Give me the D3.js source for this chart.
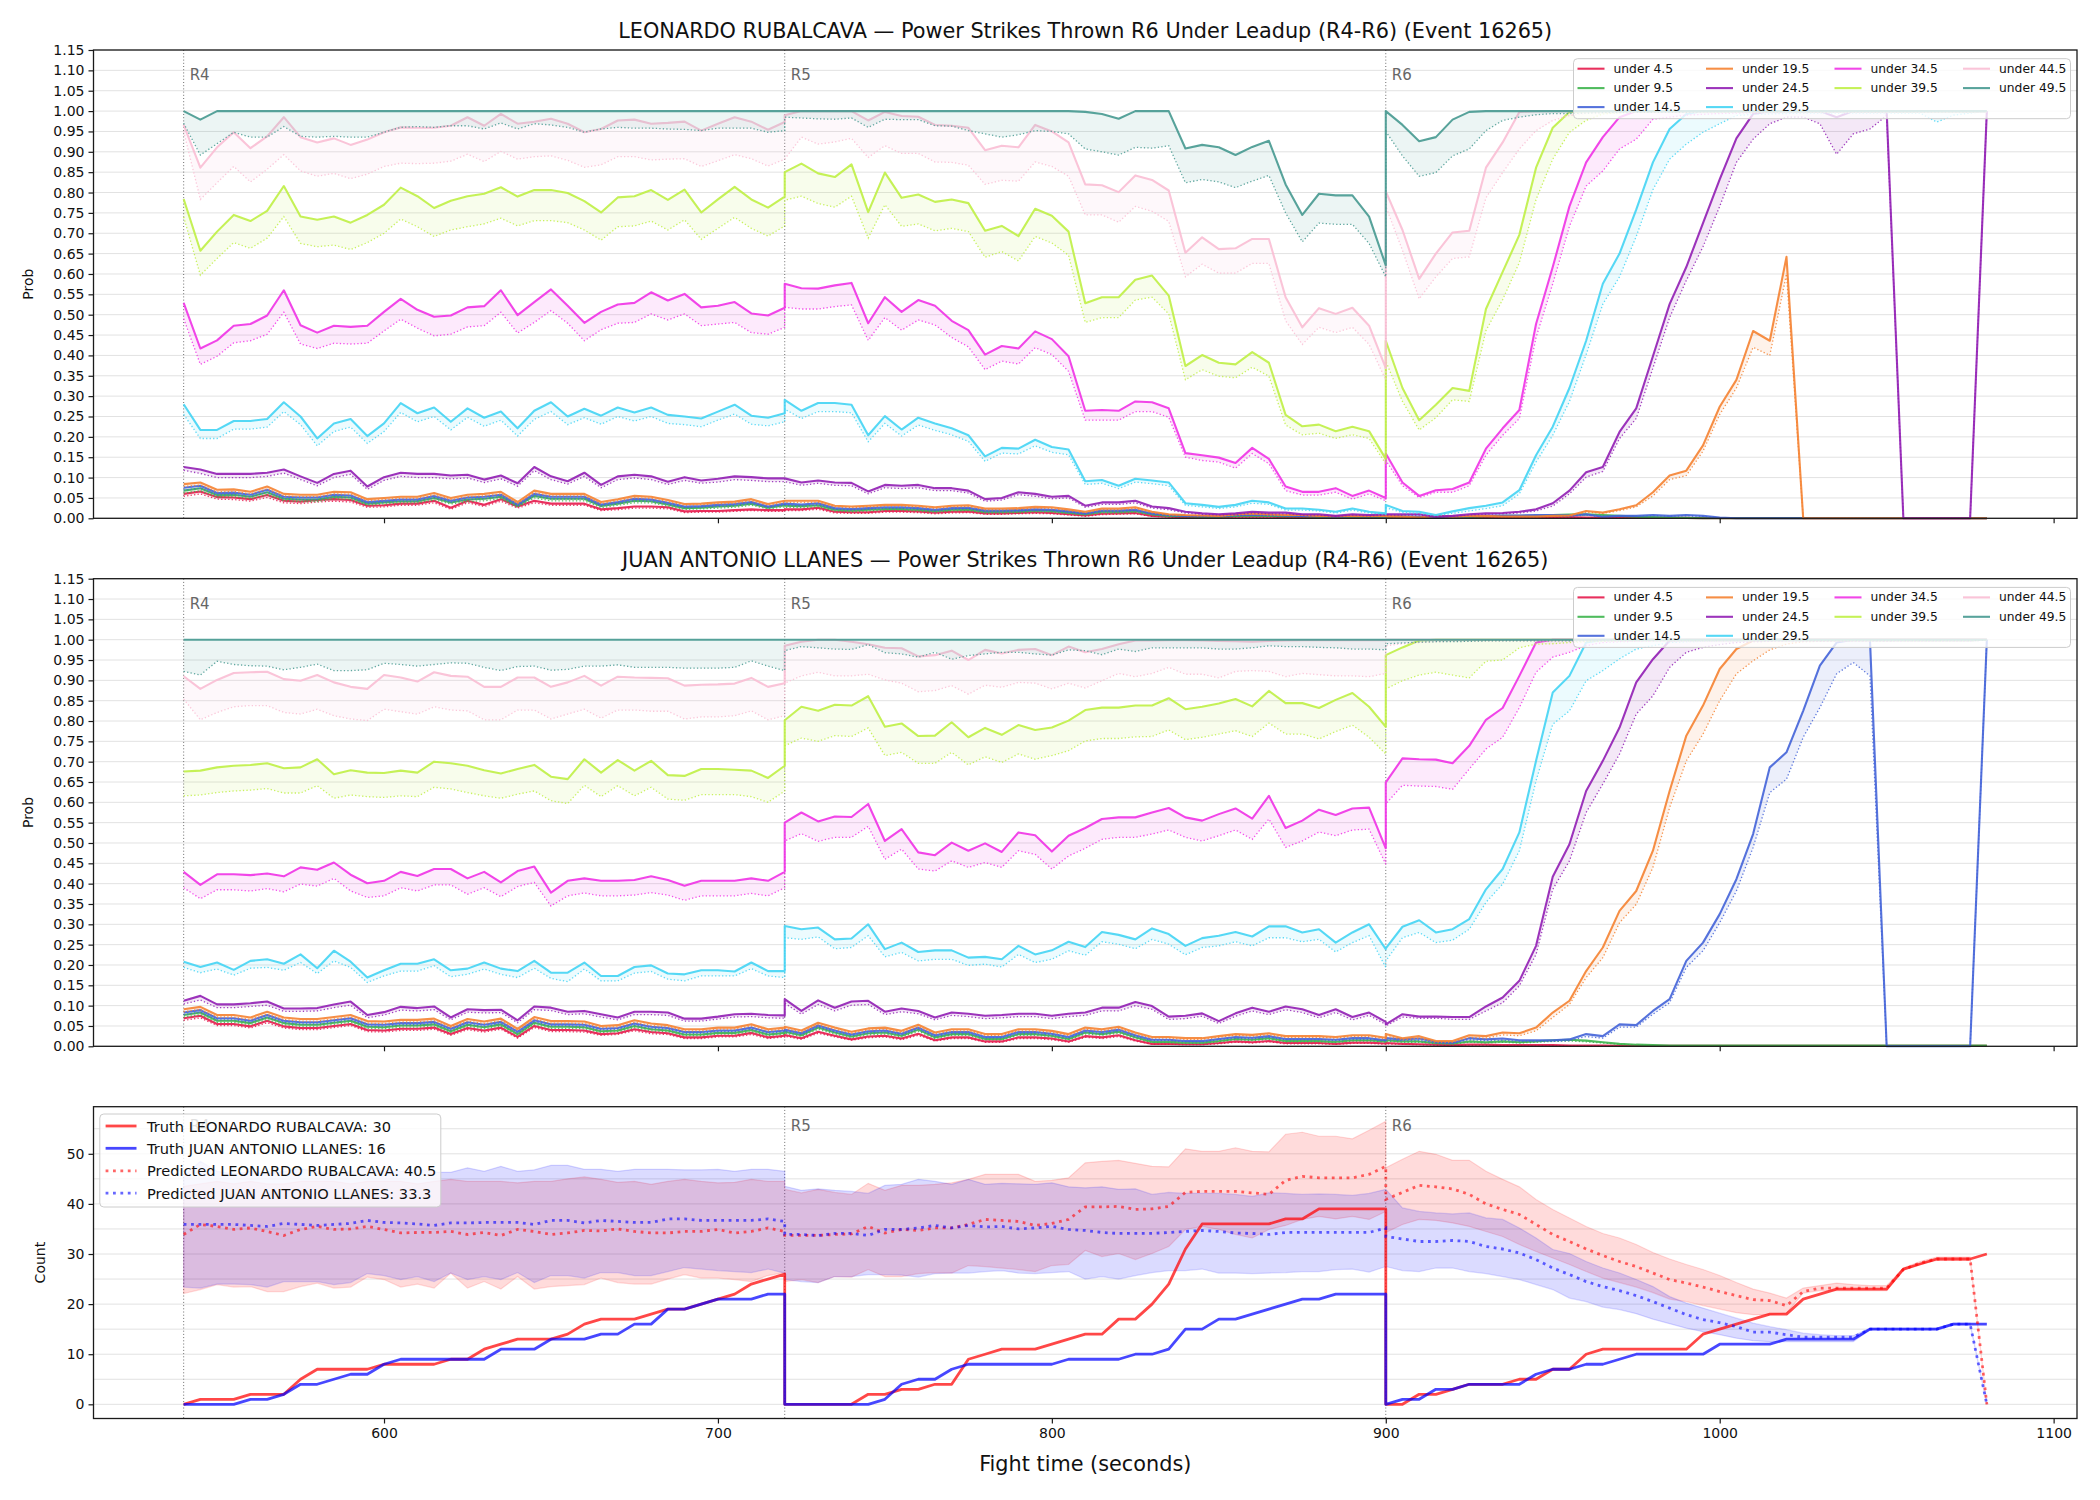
<!DOCTYPE html>
<html>
<head>
<meta charset="utf-8">
<script src="https://d3js.org/d3.v7.min.js"></script>
<style>
  html, body { margin: 0; background: white; }
  svg text { font-family: "DejaVu Sans", sans-serif; }
</style>
</head>
<body>
<script>
// ---- chart constants ----
const width = 2100, height = 1500;
const ROUND_STARTS = [540, 720, 900];
const ROUND_NAMES = ["R4", "R5", "R6"];
const STEP_SEC = 5, STEPS_PER_ROUND = 37;

const fighterA = "LEONARDO RUBALCAVA";
const fighterB = "JUAN ANTONIO LLANES";
const titleSuffix = "Power Strikes Thrown R6 Under Leadup (R4-R6) (Event 16265)";
const predictedTotals = [40.5, 33.3];

const thresholds = ["4.5", "9.5", "14.5", "19.5", "24.5", "29.5", "34.5", "39.5", "44.5", "49.5"];
const thresholdColors = ["#e6194B", "#3cb44b", "#4363d8", "#f58231", "#911eb4",
                         "#42d4f4", "#f032e6", "#bfef45", "#fabed4", "#469990"];

const xTicks = [600, 700, 800, 900, 1000, 1100];
const probTicks = [0, 0.05, 0.1, 0.15, 0.2, 0.25, 0.3, 0.35, 0.4, 0.45, 0.5, 0.55,
                   0.6, 0.65, 0.7, 0.75, 0.8, 0.85, 0.9, 0.95, 1, 1.05, 1.1, 1.15];
const countTicks = [0, 10, 20, 30, 40, 50];
const countGrid = [0, 5, 10, 15, 20, 25, 30, 35, 40, 45, 50, 55];

// sample times: every 5 s through each round (round end repeated as next start)
const times = ROUND_STARTS.flatMap(s => d3.range(STEPS_PER_ROUND).map(i => s + i * STEP_SEC));

// ---- LEONARDO: P(strikes under N) — solid = estimate, Lo = dotted lower line ----
const leo4_5 = [
  0.060,0.066,0.052,0.051,0.047,0.057,0.043,0.041,0.045,0.047,0.045,0.031,0.032,0.036,0.036,0.043,0.026,0.043,0.033,0.047,0.029,0.043,0.036,0.036,0.036,0.022,0.025,0.029,0.029,0.027,0.017,0.018,0.018,0.020,0.022,0.020,0.020,
  0.022,0.022,0.026,0.016,0.015,0.015,0.018,0.018,0.017,0.014,0.016,0.017,0.012,0.012,0.013,0.015,0.013,0.010,0.007,0.011,0.012,0.013,0.006,0.004,0.003,0.003,0.003,0.004,0.004,0.004,0.003,0.003,0.003,0.002,0.003,0.002,0.003,
  0.004,0.003,0.003,0.002,0.003,0.003,0.003,0.003,0.003,0.003,0.003,0.003,0.002,0.002,0.002,0.001,0.001,0.001,0.001,0,0,0,0,0,0,0,0,0,0,0,0,0,0,0,0,0,0];
const leo4_5Lo = [
  0.054,0.060,0.047,0.046,0.042,0.051,0.038,0.036,0.040,0.042,0.040,0.027,0.028,0.032,0.032,0.038,0.022,0.038,0.029,0.042,0.025,0.038,0.032,0.032,0.032,0.019,0.021,0.025,0.025,0.023,0.014,0.015,0.015,0.017,0.019,0.017,0.017,
  0.019,0.019,0.022,0.013,0.012,0.012,0.015,0.015,0.014,0.011,0.013,0.014,0.010,0.010,0.011,0.012,0.011,0.008,0.005,0.009,0.010,0.011,0.005,0.003,0.002,0.002,0.002,0.003,0.003,0.003,0.002,0.002,0.002,0.001,0.002,0.001,0.002,
  0.003,0.002,0.002,0.001,0.002,0.002,0.002,0.002,0.002,0.002,0.002,0.002,0.001,0.001,0.001,0.001,0.001,0.001,0.001,0,0,0,0,0,0,0,0,0,0,0,0,0,0,0,0,0,0];
const leo9_5 = [
  0.068,0.074,0.057,0.058,0.053,0.064,0.048,0.046,0.046,0.053,0.051,0.036,0.039,0.042,0.042,0.050,0.039,0.046,0.048,0.053,0.031,0.055,0.048,0.048,0.048,0.030,0.036,0.043,0.042,0.034,0.025,0.026,0.029,0.031,0.036,0.026,0.032,
  0.031,0.030,0.032,0.021,0.019,0.021,0.023,0.023,0.021,0.018,0.021,0.022,0.016,0.016,0.017,0.019,0.018,0.014,0.010,0.016,0.016,0.018,0.010,0.006,0.005,0.004,0.004,0.006,0.007,0.006,0.005,0.005,0.004,0.003,0.004,0.004,0.004,
  0.005,0.004,0.003,0.002,0.003,0.004,0.005,0.006,0.006,0.006,0.008,0.009,0.010,0.008,0.006,0.004,0.003,0.002,0.001,0,0,0,0,0,0,0,0,0,0,0,0,0,0,0,0,0,0];
const leo9_5Lo = [
  0.062,0.068,0.052,0.053,0.048,0.058,0.043,0.041,0.041,0.048,0.046,0.032,0.035,0.038,0.038,0.045,0.035,0.041,0.043,0.048,0.027,0.050,0.043,0.043,0.043,0.026,0.032,0.038,0.038,0.030,0.022,0.023,0.025,0.027,0.032,0.023,0.028,
  0.027,0.026,0.028,0.018,0.016,0.018,0.020,0.020,0.018,0.015,0.018,0.019,0.013,0.013,0.014,0.016,0.015,0.012,0.008,0.013,0.013,0.015,0.008,0.005,0.004,0.003,0.003,0.005,0.005,0.005,0.004,0.004,0.003,0.002,0.003,0.003,0.003,
  0.004,0.003,0.002,0.001,0.002,0.003,0.004,0.005,0.005,0.005,0.006,0.007,0.008,0.006,0.005,0.003,0.002,0.001,0.001,0,0,0,0,0,0,0,0,0,0,0,0,0,0,0,0,0,0];
const leo14_5 = [
  0.075,0.080,0.062,0.063,0.058,0.070,0.053,0.051,0.051,0.058,0.056,0.040,0.043,0.046,0.046,0.055,0.043,0.051,0.053,0.058,0.034,0.060,0.053,0.053,0.053,0.034,0.040,0.048,0.046,0.038,0.029,0.030,0.033,0.035,0.040,0.029,0.036,
  0.036,0.034,0.037,0.025,0.023,0.025,0.027,0.027,0.025,0.021,0.025,0.026,0.019,0.019,0.020,0.022,0.021,0.017,0.012,0.019,0.019,0.021,0.012,0.008,0.006,0.005,0.005,0.008,0.009,0.008,0.007,0.006,0.005,0.004,0.005,0.005,0.005,
  0.007,0.005,0.004,0.002,0.004,0.005,0.007,0.007,0.007,0.008,0.008,0.007,0.010,0.004,0.006,0.006,0.008,0.006,0.008,0.006,0.002,0,0,0,0,0,0,0,0,0,0,0,0,0,0,0,0];
const leo14_5Lo = [
  0.069,0.074,0.057,0.058,0.053,0.064,0.048,0.046,0.046,0.053,0.051,0.036,0.039,0.042,0.042,0.050,0.039,0.046,0.048,0.053,0.030,0.055,0.048,0.048,0.048,0.030,0.036,0.043,0.042,0.034,0.026,0.027,0.029,0.031,0.036,0.026,0.032,
  0.032,0.030,0.033,0.022,0.020,0.022,0.024,0.024,0.022,0.018,0.022,0.023,0.016,0.016,0.017,0.019,0.018,0.014,0.010,0.016,0.016,0.018,0.010,0.006,0.005,0.004,0.004,0.006,0.007,0.006,0.005,0.005,0.004,0.003,0.004,0.004,0.004,
  0.005,0.004,0.003,0.001,0.003,0.004,0.005,0.005,0.005,0.006,0.006,0.005,0.008,0.003,0.005,0.005,0.006,0.005,0.006,0.005,0.001,0,0,0,0,0,0,0,0,0,0,0,0,0,0,0,0];
const leo19_5 = [
  0.084,0.088,0.070,0.071,0.065,0.078,0.060,0.058,0.058,0.065,0.064,0.047,0.050,0.053,0.053,0.062,0.050,0.058,0.060,0.065,0.040,0.068,0.060,0.060,0.060,0.040,0.047,0.055,0.053,0.045,0.035,0.036,0.039,0.041,0.047,0.035,0.043,
  0.043,0.043,0.043,0.031,0.029,0.031,0.033,0.033,0.031,0.027,0.031,0.032,0.024,0.024,0.025,0.028,0.027,0.022,0.016,0.024,0.024,0.027,0.016,0.010,0.008,0.007,0.006,0.010,0.012,0.010,0.008,0.008,0.006,0.005,0.006,0.006,0.006,
  0.006,0.004,0.002,0.006,0.004,0.006,0.006,0.004,0.004,0.004,0.006,0.007,0.018,0.014,0.022,0.032,0.064,0.105,0.117,0.179,0.274,0.340,0.460,0.436,0.642,0,0,0,0,0,0,0,0,0,0,0,0];
const leo19_5Lo = [
  0.078,0.082,0.065,0.066,0.060,0.072,0.055,0.053,0.053,0.060,0.059,0.043,0.046,0.049,0.049,0.057,0.046,0.053,0.055,0.060,0.036,0.063,0.055,0.055,0.055,0.036,0.043,0.050,0.049,0.041,0.032,0.033,0.036,0.037,0.043,0.032,0.039,
  0.039,0.039,0.039,0.028,0.026,0.028,0.030,0.030,0.028,0.024,0.028,0.029,0.021,0.021,0.022,0.025,0.024,0.019,0.014,0.021,0.021,0.024,0.014,0.008,0.007,0.006,0.005,0.008,0.010,0.008,0.007,0.007,0.005,0.004,0.005,0.005,0.005,
  0.005,0.003,0.002,0.005,0.003,0.005,0.005,0.003,0.003,0.003,0.005,0.006,0.015,0.012,0.019,0.028,0.055,0.095,0.105,0.165,0.255,0.320,0.420,0.400,0.600,0,0,0,0,0,0,0,0,0,0,0,0];
const leo24_5 = [
  0.126,0.120,0.109,0.109,0.109,0.112,0.120,0.103,0.087,0.109,0.117,0.078,0.101,0.112,0.109,0.109,0.105,0.107,0.095,0.105,0.086,0.126,0.103,0.091,0.112,0.082,0.103,0.107,0.103,0.090,0.101,0.093,0.097,0.103,0.101,0.098,0.098,
  0.098,0.088,0.093,0.088,0.087,0.066,0.082,0.080,0.082,0.074,0.074,0.068,0.047,0.050,0.064,0.060,0.053,0.055,0.031,0.039,0.039,0.043,0.029,0.025,0.016,0.012,0.010,0.012,0.016,0.014,0.014,0.010,0.010,0.006,0.010,0.008,0.010,
  0.010,0.010,0.010,0.004,0.006,0.010,0.012,0.013,0.016,0.022,0.037,0.068,0.113,0.126,0.212,0.270,0.398,0.526,0.617,0.725,0.832,0.933,0.993,1,1,1,1,0.985,1,1,1,0,0,0,0,0,1];
const leo24_5Lo = [
  0.118,0.110,0.100,0.100,0.100,0.103,0.111,0.095,0.080,0.100,0.108,0.071,0.093,0.103,0.100,0.100,0.097,0.099,0.088,0.097,0.079,0.117,0.095,0.084,0.103,0.075,0.095,0.099,0.095,0.083,0.093,0.086,0.089,0.095,0.093,0.090,0.090,
  0.090,0.081,0.086,0.081,0.080,0.060,0.075,0.073,0.075,0.068,0.068,0.062,0.042,0.045,0.058,0.054,0.048,0.050,0.027,0.034,0.034,0.038,0.025,0.021,0.013,0.010,0.008,0.010,0.013,0.011,0.011,0.008,0.008,0.005,0.008,0.006,0.008,
  0.008,0.008,0.008,0.003,0.005,0.008,0.010,0.011,0.013,0.018,0.030,0.060,0.101,0.115,0.196,0.245,0.369,0.493,0.584,0.667,0.766,0.874,0.931,0.969,0.985,0.985,0.969,0.894,0.944,0.956,0.989,0,0,0,0,0,1];
const leo29_5 = [
  0.280,0.217,0.217,0.239,0.239,0.244,0.285,0.250,0.196,0.233,0.244,0.202,0.233,0.283,0.258,0.272,0.237,0.270,0.247,0.262,0.221,0.264,0.285,0.250,0.269,0.252,0.272,0.260,0.272,0.254,0.250,0.245,0.262,0.279,0.252,0.247,0.258,
  0.291,0.264,0.283,0.283,0.279,0.204,0.251,0.218,0.247,0.233,0.221,0.204,0.152,0.173,0.171,0.193,0.175,0.169,0.091,0.094,0.080,0.097,0.093,0.088,0.037,0.033,0.028,0.033,0.043,0.039,0.024,0.024,0.021,0.016,0.024,0.016,0.012,
  0.033,0.018,0.016,0.008,0.017,0.025,0.031,0.039,0.069,0.155,0.225,0.320,0.436,0.576,0.650,0.758,0.874,0.956,0.993,1,1,1,1,1,1,1,1,1,1,1,1,1,1,1,1,1,1];
const leo29_5Lo = [
  0.255,0.196,0.196,0.219,0.219,0.224,0.262,0.230,0.178,0.213,0.224,0.184,0.213,0.260,0.237,0.250,0.217,0.248,0.226,0.241,0.202,0.243,0.262,0.230,0.247,0.231,0.250,0.239,0.250,0.233,0.230,0.225,0.241,0.256,0.231,0.227,0.237,
  0.268,0.245,0.262,0.262,0.259,0.188,0.233,0.202,0.229,0.216,0.205,0.189,0.140,0.160,0.158,0.178,0.162,0.156,0.083,0.086,0.073,0.089,0.085,0.080,0.032,0.028,0.024,0.028,0.037,0.034,0.020,0.020,0.018,0.013,0.020,0.013,0.010,
  0.026,0.014,0.012,0.006,0.012,0.018,0.024,0.031,0.060,0.138,0.204,0.287,0.402,0.526,0.593,0.692,0.807,0.882,0.919,0.948,0.969,0.989,0.992,0.993,0.994,0.995,0.995,0.995,0.995,0.995,0.995,0.995,0.995,0.973,0.990,0.995,0.999];
const leo34_5 = [
  0.529,0.417,0.437,0.473,0.477,0.498,0.560,0.474,0.456,0.473,0.470,0.473,0.507,0.539,0.512,0.495,0.498,0.518,0.521,0.560,0.499,0.531,0.562,0.522,0.480,0.507,0.525,0.529,0.555,0.535,0.551,0.518,0.522,0.531,0.503,0.498,0.517,
  0.576,0.565,0.564,0.572,0.578,0.479,0.543,0.507,0.536,0.522,0.485,0.462,0.402,0.423,0.417,0.459,0.440,0.398,0.264,0.266,0.264,0.287,0.285,0.270,0.160,0.155,0.149,0.136,0.173,0.146,0.078,0.065,0.065,0.074,0.055,0.068,0.050,
  0.159,0.088,0.055,0.069,0.072,0.088,0.171,0.221,0.266,0.477,0.617,0.766,0.874,0.936,0.985,1,1,1,1,1,1,1,1,1,1,1,1,1,1,1,1,1,1,1,1,1,1];
const leo34_5Lo = [
  0.490,0.378,0.398,0.431,0.436,0.452,0.506,0.428,0.417,0.430,0.428,0.430,0.460,0.489,0.467,0.448,0.452,0.470,0.473,0.506,0.455,0.481,0.510,0.479,0.436,0.463,0.479,0.481,0.502,0.487,0.502,0.473,0.477,0.481,0.456,0.452,0.469,
  0.518,0.514,0.514,0.520,0.524,0.437,0.493,0.462,0.487,0.475,0.444,0.421,0.365,0.386,0.379,0.419,0.402,0.361,0.241,0.241,0.241,0.262,0.262,0.248,0.150,0.142,0.138,0.123,0.159,0.134,0.068,0.057,0.057,0.064,0.047,0.060,0.043,
  0.142,0.080,0.051,0.064,0.064,0.080,0.155,0.204,0.245,0.444,0.576,0.717,0.816,0.853,0.907,0.931,0.980,0.985,0.990,0.992,0.994,0.995,0.996,0.996,0.997,0.997,0.997,0.997,0.997,0.997,0.997,0.998,0.998,0.998,0.998,0.998,0.999];
const leo39_5 = [
  0.784,0.657,0.704,0.745,0.730,0.755,0.816,0.741,0.733,0.741,0.726,0.745,0.770,0.812,0.791,0.762,0.780,0.791,0.797,0.813,0.790,0.806,0.806,0.799,0.779,0.751,0.788,0.791,0.806,0.782,0.807,0.751,0.783,0.814,0.783,0.763,0.790,
  0.850,0.871,0.847,0.838,0.869,0.752,0.849,0.787,0.795,0.777,0.783,0.774,0.706,0.718,0.693,0.760,0.743,0.704,0.528,0.543,0.543,0.586,0.596,0.547,0.374,0.401,0.382,0.378,0.408,0.382,0.254,0.226,0.230,0.214,0.225,0.214,0.146,
  0.436,0.320,0.241,0.279,0.320,0.313,0.514,0.605,0.696,0.861,0.959,0.998,1,1,1,1,1,1,1,1,1,1,1,1,1,1,1,1,1,1,1,1,1,1,1,1,1];
const leo39_5Lo = [
  0.740,0.597,0.638,0.677,0.663,0.688,0.741,0.675,0.667,0.671,0.660,0.677,0.700,0.735,0.716,0.692,0.708,0.716,0.723,0.737,0.718,0.731,0.731,0.726,0.708,0.683,0.716,0.718,0.730,0.708,0.733,0.685,0.712,0.739,0.712,0.693,0.718,
  0.781,0.791,0.773,0.764,0.791,0.688,0.770,0.717,0.723,0.706,0.712,0.704,0.641,0.655,0.632,0.692,0.676,0.646,0.481,0.493,0.493,0.536,0.543,0.502,0.340,0.365,0.349,0.345,0.371,0.349,0.229,0.205,0.209,0.196,0.205,0.196,0.134,
  0.386,0.287,0.217,0.247,0.291,0.287,0.461,0.537,0.628,0.783,0.882,0.948,0.977,0.993,0.996,0.997,0.998,0.998,0.998,0.998,0.998,0.998,0.998,0.998,0.998,0.998,0.998,0.998,0.998,0.998,0.998,0.998,0.998,0.998,0.998,0.998,0.999];
const leo44_5 = [
  0.966,0.861,0.911,0.948,0.909,0.938,0.985,0.936,0.923,0.933,0.917,0.930,0.948,0.960,0.959,0.959,0.964,0.985,0.964,0.993,0.969,0.974,0.981,0.969,0.948,0.956,0.977,0.979,0.969,0.971,0.974,0.952,0.969,0.985,0.974,0.954,0.973,
  0.990,1,1,1,1,0.977,0.998,0.988,0.986,0.966,0.964,0.959,0.904,0.915,0.911,0.966,0.950,0.923,0.820,0.818,0.801,0.842,0.831,0.805,0.652,0.690,0.661,0.663,0.686,0.686,0.543,0.469,0.516,0.502,0.517,0.473,0.369,
  0.803,0.708,0.588,0.650,0.702,0.706,0.861,0.923,0.998,1,1,1,1,1,1,1,1,1,1,1,1,1,1,1,1,1,1,1,1,1,1,1,1,1,1,1,1];
const leo44_5Lo = [
  0.950,0.783,0.824,0.864,0.826,0.857,0.893,0.853,0.840,0.847,0.834,0.845,0.864,0.872,0.871,0.872,0.877,0.894,0.876,0.901,0.882,0.888,0.890,0.879,0.862,0.868,0.888,0.888,0.880,0.882,0.883,0.864,0.878,0.893,0.883,0.865,0.882,
  0.882,0.936,0.919,0.924,0.933,0.886,0.915,0.896,0.896,0.875,0.874,0.867,0.820,0.830,0.828,0.875,0.864,0.840,0.745,0.745,0.727,0.766,0.754,0.729,0.593,0.624,0.602,0.602,0.626,0.626,0.485,0.427,0.469,0.456,0.469,0.427,0.340,
  0.766,0.658,0.539,0.593,0.638,0.642,0.787,0.849,0.907,0.952,0.977,0.989,0.995,0.996,0.997,0.997,0.998,0.998,0.998,0.998,0.998,0.998,0.998,0.998,0.998,0.998,0.998,0.998,0.998,0.998,0.998,0.998,0.998,0.998,0.998,0.998,0.999];
const leo49_5 = [
  1,0.979,1,1,1,1,1,1,1,1,1,1,1,1,1,1,1,1,1,1,1,1,1,1,1,1,1,1,1,1,1,1,1,1,1,1,1,
  1,1,1,1,1,1,1,1,1,1,1,1,1,1,1,1,1,1,0.998,0.993,0.981,1,1,1,0.908,0.917,0.911,0.892,0.912,0.927,0.820,0.745,0.797,0.793,0.793,0.741,0.621,
  1,0.966,0.926,0.936,0.979,0.998,1,1,1,1,1,1,1,1,1,1,1,1,1,1,1,1,1,1,1,1,1,1,1,1,1,1,1,1,1,1,1];
const leo49_5Lo = [
  0.970,0.892,0.920,0.948,0.936,0.936,0.962,0.938,0.936,0.938,0.936,0.936,0.948,0.960,0.962,0.960,0.964,0.964,0.956,0.971,0.956,0.969,0.966,0.960,0.948,0.956,0.960,0.958,0.958,0.956,0.955,0.952,0.958,0.958,0.958,0.948,0.952,
  0.985,0.983,0.981,0.980,0.983,0.960,0.980,0.979,0.979,0.964,0.963,0.952,0.944,0.936,0.942,0.952,0.950,0.944,0.907,0.900,0.892,0.911,0.909,0.915,0.824,0.832,0.826,0.812,0.828,0.842,0.750,0.679,0.725,0.722,0.722,0.675,0.593,
  0.950,0.890,0.840,0.849,0.890,0.907,0.952,0.977,0.985,0.991,0.994,0.994,0.995,0.996,0.996,0.997,0.997,0.997,0.997,0.998,0.998,0.998,0.998,0.998,0.998,0.998,0.998,0.998,0.998,0.998,0.998,0.998,0.998,0.998,0.998,0.998,0.999];

// ---- JUAN ANTONIO: P(strikes under N) ----
const juan4_5 = [
  0.069,0.075,0.055,0.055,0.049,0.063,0.049,0.045,0.045,0.050,0.055,0.040,0.039,0.043,0.043,0.046,0.030,0.045,0.039,0.046,0.023,0.050,0.040,0.040,0.039,0.030,0.032,0.042,0.035,0.032,0.022,0.022,0.026,0.026,0.033,0.022,0.026,
  0.028,0.020,0.036,0.026,0.017,0.024,0.026,0.019,0.031,0.015,0.022,0.022,0.012,0.012,0.022,0.022,0.019,0.012,0.025,0.022,0.027,0.015,0.006,0.006,0.005,0.005,0.008,0.012,0.010,0.013,0.008,0.008,0.008,0.006,0.009,0.009,0.007,
  0.008,0.006,0.005,0.004,0.003,0.004,0.004,0.003,0.003,0.003,0.003,0.002,0.002,0.002,0.001,0.001,0.001,0.001,0.001,0.001,0.001,0.001,0.001,0.001,0.001,0.001,0.001,0.001,0.001,0.001,0.001,0.001,0.001,0.001,0.001,0.001,0.001];
const juan4_5Lo = [
  0.064,0.070,0.051,0.051,0.045,0.058,0.045,0.041,0.041,0.046,0.051,0.036,0.035,0.039,0.039,0.042,0.027,0.041,0.035,0.042,0.020,0.046,0.036,0.036,0.035,0.027,0.029,0.038,0.031,0.029,0.019,0.019,0.023,0.023,0.029,0.019,0.023,
  0.025,0.017,0.032,0.023,0.015,0.021,0.023,0.016,0.027,0.013,0.019,0.019,0.010,0.010,0.019,0.019,0.016,0.010,0.022,0.019,0.024,0.013,0.005,0.005,0.004,0.004,0.006,0.010,0.008,0.011,0.006,0.006,0.006,0.005,0.007,0.007,0.005,
  0.006,0.005,0.004,0.003,0.002,0.003,0.003,0.002,0.002,0.002,0.002,0.001,0.001,0.001,0.001,0.001,0.001,0.001,0.001,0.001,0.001,0.001,0.001,0.001,0.001,0.001,0.001,0.001,0.001,0.001,0.001,0.001,0.001,0.001,0.001,0.001,0.001];
const juan9_5 = [
  0.077,0.083,0.063,0.063,0.057,0.071,0.057,0.053,0.053,0.058,0.063,0.048,0.047,0.051,0.051,0.054,0.037,0.053,0.047,0.054,0.030,0.058,0.048,0.048,0.047,0.037,0.039,0.050,0.042,0.039,0.029,0.029,0.033,0.033,0.040,0.029,0.033,
  0.036,0.027,0.046,0.034,0.024,0.032,0.034,0.026,0.041,0.022,0.030,0.030,0.018,0.018,0.030,0.030,0.026,0.018,0.034,0.030,0.036,0.022,0.011,0.011,0.009,0.009,0.013,0.018,0.016,0.020,0.013,0.013,0.013,0.011,0.015,0.015,0.012,
  0.015,0.012,0.012,0.008,0.007,0.012,0.010,0.012,0.010,0.012,0.015,0.016,0.014,0.010,0.006,0.004,0.003,0.002,0.002,0.002,0.002,0.002,0.002,0.002,0.002,0.002,0.002,0.002,0.002,0.002,0.002,0.002,0.002,0.002,0.002,0.002,0.002];
const juan9_5Lo = [
  0.072,0.078,0.059,0.059,0.053,0.066,0.053,0.049,0.049,0.054,0.059,0.044,0.043,0.047,0.047,0.050,0.034,0.049,0.043,0.050,0.027,0.054,0.044,0.044,0.043,0.034,0.036,0.046,0.038,0.036,0.026,0.026,0.030,0.030,0.036,0.026,0.030,
  0.032,0.024,0.042,0.030,0.021,0.028,0.030,0.023,0.037,0.019,0.027,0.027,0.016,0.016,0.027,0.027,0.023,0.016,0.030,0.027,0.032,0.019,0.009,0.009,0.007,0.007,0.011,0.016,0.014,0.017,0.011,0.011,0.011,0.009,0.013,0.013,0.010,
  0.012,0.010,0.010,0.006,0.005,0.010,0.008,0.010,0.008,0.010,0.012,0.013,0.011,0.008,0.005,0.003,0.002,0.001,0.001,0.001,0.001,0.001,0.001,0.001,0.001,0.001,0.001,0.001,0.001,0.001,0.001,0.001,0.001,0.001,0.001,0.001,0.001];
const juan14_5 = [
  0.083,0.089,0.069,0.069,0.063,0.077,0.063,0.059,0.059,0.064,0.069,0.054,0.053,0.057,0.057,0.060,0.043,0.059,0.053,0.060,0.036,0.064,0.054,0.054,0.053,0.043,0.045,0.056,0.048,0.045,0.035,0.035,0.039,0.039,0.046,0.035,0.039,
  0.041,0.032,0.051,0.039,0.029,0.037,0.039,0.031,0.046,0.027,0.035,0.035,0.023,0.023,0.035,0.035,0.031,0.023,0.039,0.035,0.041,0.027,0.016,0.016,0.013,0.013,0.018,0.023,0.021,0.025,0.018,0.018,0.018,0.016,0.020,0.020,0.015,
  0.020,0.017,0.019,0.011,0.009,0.020,0.017,0.019,0.015,0.015,0.015,0.017,0.030,0.025,0.054,0.052,0.087,0.116,0.210,0.255,0.325,0.411,0.522,0.686,0.723,0.825,0.936,0.993,1,1,0,0,0,0,0,0,1];
const juan14_5Lo = [
  0.078,0.084,0.065,0.065,0.059,0.072,0.059,0.055,0.055,0.060,0.065,0.050,0.049,0.053,0.053,0.056,0.040,0.055,0.049,0.056,0.033,0.060,0.050,0.050,0.049,0.040,0.042,0.052,0.044,0.042,0.032,0.032,0.036,0.036,0.042,0.032,0.036,
  0.037,0.029,0.047,0.035,0.026,0.033,0.035,0.028,0.042,0.024,0.031,0.031,0.020,0.020,0.031,0.031,0.028,0.020,0.035,0.031,0.037,0.024,0.014,0.014,0.011,0.011,0.016,0.020,0.018,0.022,0.016,0.016,0.016,0.014,0.017,0.017,0.013,
  0.016,0.014,0.015,0.008,0.007,0.016,0.014,0.015,0.012,0.012,0.012,0.014,0.024,0.020,0.047,0.047,0.079,0.107,0.194,0.235,0.304,0.382,0.489,0.624,0.657,0.760,0.833,0.916,0.944,0.911,0,0,0,0,0,0,1];
const juan19_5 = [
  0.091,0.097,0.077,0.077,0.071,0.085,0.071,0.067,0.067,0.072,0.077,0.062,0.061,0.065,0.065,0.068,0.050,0.067,0.061,0.068,0.043,0.072,0.062,0.062,0.061,0.050,0.052,0.064,0.056,0.052,0.042,0.042,0.046,0.046,0.054,0.042,0.046,
  0.048,0.039,0.058,0.046,0.036,0.044,0.046,0.038,0.053,0.034,0.042,0.042,0.030,0.030,0.042,0.042,0.038,0.030,0.046,0.042,0.048,0.034,0.023,0.023,0.020,0.020,0.025,0.030,0.028,0.032,0.025,0.025,0.025,0.023,0.027,0.027,0.021,
  0.030,0.020,0.025,0.013,0.013,0.027,0.025,0.034,0.032,0.046,0.083,0.112,0.185,0.243,0.333,0.382,0.481,0.628,0.764,0.838,0.928,0.977,0.998,1,1,1,1,1,1,1,1,1,1,1,1,1,1];
const juan19_5Lo = [
  0.085,0.091,0.072,0.072,0.066,0.079,0.066,0.062,0.062,0.067,0.072,0.057,0.056,0.060,0.060,0.063,0.046,0.062,0.056,0.063,0.039,0.067,0.057,0.057,0.056,0.046,0.048,0.059,0.051,0.048,0.038,0.038,0.042,0.042,0.050,0.038,0.042,
  0.044,0.035,0.053,0.042,0.032,0.040,0.042,0.034,0.048,0.030,0.038,0.038,0.027,0.027,0.038,0.038,0.034,0.027,0.042,0.038,0.044,0.030,0.020,0.020,0.017,0.017,0.022,0.027,0.025,0.028,0.022,0.022,0.022,0.020,0.024,0.024,0.018,
  0.025,0.016,0.020,0.010,0.010,0.022,0.020,0.028,0.026,0.038,0.071,0.103,0.169,0.218,0.304,0.349,0.440,0.587,0.702,0.768,0.850,0.916,0.948,0.975,0.989,0.995,0.996,0.997,0.997,0.997,0.997,0.998,0.998,0.998,0.998,0.998,0.999];
const juan24_5 = [
  0.112,0.124,0.103,0.103,0.106,0.110,0.093,0.093,0.094,0.103,0.110,0.077,0.084,0.097,0.094,0.098,0.071,0.091,0.089,0.090,0.064,0.098,0.095,0.085,0.087,0.079,0.071,0.085,0.085,0.083,0.068,0.068,0.073,0.079,0.080,0.077,0.076,
  0.116,0.087,0.113,0.095,0.110,0.112,0.085,0.093,0.087,0.071,0.083,0.080,0.075,0.077,0.080,0.080,0.075,0.080,0.083,0.095,0.095,0.109,0.099,0.073,0.075,0.081,0.062,0.081,0.095,0.085,0.098,0.091,0.077,0.091,0.072,0.083,0.060,
  0.054,0.079,0.073,0.073,0.072,0.072,0.098,0.120,0.161,0.247,0.417,0.497,0.628,0.702,0.784,0.895,0.952,0.998,1,1,1,1,1,1,1,1,1,1,1,1,1,1,1,1,1,1,1];
const juan24_5Lo = [
  0.104,0.114,0.095,0.095,0.098,0.101,0.086,0.086,0.087,0.095,0.101,0.070,0.077,0.089,0.087,0.090,0.065,0.084,0.082,0.083,0.058,0.090,0.088,0.078,0.080,0.072,0.065,0.078,0.078,0.076,0.062,0.062,0.067,0.072,0.073,0.070,0.069,
  0.106,0.079,0.103,0.087,0.101,0.103,0.078,0.085,0.080,0.065,0.076,0.073,0.068,0.070,0.073,0.073,0.068,0.073,0.076,0.087,0.087,0.100,0.091,0.066,0.068,0.074,0.056,0.074,0.087,0.078,0.090,0.083,0.070,0.083,0.065,0.076,0.054,
  0.050,0.072,0.069,0.069,0.066,0.066,0.087,0.107,0.149,0.226,0.386,0.456,0.575,0.645,0.719,0.817,0.862,0.932,0.969,0.981,0.988,0.993,0.995,0.996,0.997,0.997,0.997,0.997,0.997,0.997,0.997,0.998,0.998,0.998,0.998,0.998,0.999];
const juan29_5 = [
  0.208,0.195,0.206,0.188,0.210,0.214,0.203,0.226,0.192,0.235,0.208,0.169,0.187,0.203,0.203,0.214,0.187,0.191,0.206,0.191,0.185,0.210,0.181,0.181,0.206,0.173,0.173,0.195,0.199,0.179,0.177,0.187,0.187,0.184,0.206,0.185,0.185,
  0.296,0.288,0.292,0.263,0.265,0.300,0.239,0.255,0.232,0.236,0.236,0.218,0.220,0.214,0.247,0.226,0.236,0.257,0.244,0.281,0.274,0.263,0.290,0.276,0.247,0.266,0.272,0.281,0.270,0.295,0.295,0.280,0.288,0.255,0.280,0.300,0.239,
  0.241,0.294,0.310,0.280,0.288,0.313,0.386,0.436,0.526,0.702,0.870,0.911,0.993,1,1,1,1,1,1,1,1,1,1,1,1,1,1,1,1,1,1,1,1,1,1,1,1];
const juan29_5Lo = [
  0.194,0.181,0.190,0.175,0.192,0.194,0.187,0.206,0.179,0.210,0.194,0.157,0.173,0.185,0.185,0.198,0.171,0.177,0.190,0.177,0.169,0.192,0.167,0.159,0.190,0.161,0.161,0.180,0.184,0.165,0.161,0.173,0.173,0.173,0.191,0.173,0.169,
  0.267,0.263,0.269,0.240,0.243,0.272,0.220,0.231,0.210,0.214,0.214,0.199,0.202,0.195,0.226,0.206,0.214,0.235,0.224,0.257,0.251,0.240,0.263,0.251,0.225,0.243,0.247,0.257,0.247,0.267,0.267,0.257,0.263,0.232,0.255,0.272,0.194,
  0.210,0.267,0.280,0.255,0.261,0.288,0.354,0.399,0.481,0.653,0.792,0.825,0.899,0.924,0.953,0.977,0.985,0.993,0.995,0.996,0.997,0.997,0.997,0.997,0.997,0.997,0.997,0.997,0.997,0.997,0.997,0.997,0.997,0.997,0.997,0.997,0.999];
const juan34_5 = [
  0.429,0.397,0.423,0.423,0.421,0.425,0.418,0.440,0.434,0.452,0.422,0.401,0.407,0.429,0.419,0.436,0.436,0.413,0.429,0.403,0.431,0.442,0.378,0.407,0.413,0.407,0.407,0.409,0.418,0.409,0.395,0.407,0.407,0.407,0.413,0.407,0.429,
  0.550,0.575,0.553,0.565,0.564,0.596,0.505,0.534,0.477,0.470,0.501,0.481,0.499,0.478,0.526,0.519,0.479,0.518,0.537,0.559,0.563,0.563,0.575,0.586,0.563,0.555,0.571,0.585,0.560,0.616,0.537,0.555,0.582,0.569,0.585,0.587,0.487,
  0.649,0.708,0.706,0.705,0.696,0.739,0.803,0.832,0.911,0.993,1,1,1,1,1,1,1,1,1,1,1,1,1,1,1,1,1,1,1,1,1,1,1,1,1,1,1];
const juan34_5Lo = [
  0.390,0.363,0.385,0.385,0.382,0.388,0.380,0.399,0.394,0.413,0.382,0.366,0.370,0.390,0.382,0.397,0.397,0.374,0.390,0.368,0.393,0.403,0.345,0.370,0.377,0.370,0.370,0.372,0.378,0.372,0.359,0.370,0.370,0.370,0.376,0.370,0.390,
  0.505,0.523,0.504,0.514,0.514,0.541,0.460,0.485,0.436,0.431,0.456,0.440,0.452,0.440,0.481,0.472,0.436,0.468,0.487,0.509,0.514,0.514,0.522,0.532,0.514,0.505,0.518,0.532,0.509,0.559,0.489,0.505,0.527,0.518,0.532,0.534,0.448,
  0.596,0.642,0.640,0.639,0.632,0.682,0.731,0.760,0.833,0.920,0.957,0.969,0.985,0.993,0.995,0.996,0.997,0.997,0.997,0.997,0.997,0.997,0.997,0.997,0.997,0.997,0.997,0.997,0.997,0.997,0.997,0.997,0.997,0.997,0.997,0.997,0.999];
const juan39_5 = [
  0.676,0.678,0.686,0.690,0.692,0.696,0.684,0.686,0.706,0.669,0.679,0.673,0.672,0.678,0.673,0.700,0.696,0.690,0.679,0.671,0.682,0.692,0.663,0.657,0.706,0.673,0.704,0.678,0.702,0.667,0.665,0.682,0.682,0.680,0.678,0.660,0.690,
  0.802,0.835,0.825,0.840,0.838,0.861,0.786,0.794,0.763,0.764,0.797,0.760,0.783,0.766,0.790,0.778,0.784,0.801,0.827,0.833,0.833,0.838,0.838,0.856,0.829,0.835,0.843,0.854,0.836,0.874,0.844,0.844,0.832,0.852,0.869,0.835,0.786,
  0.962,0.981,0.998,1,1,1,1,1,1,1,1,1,1,1,1,1,1,1,1,1,1,1,1,1,1,1,1,1,1,1,1,1,1,1,1,1,1];
const juan39_5Lo = [
  0.616,0.618,0.624,0.628,0.630,0.634,0.623,0.623,0.641,0.610,0.618,0.614,0.612,0.616,0.614,0.637,0.633,0.624,0.616,0.610,0.620,0.628,0.604,0.597,0.642,0.614,0.641,0.616,0.637,0.608,0.605,0.619,0.619,0.619,0.614,0.600,0.628,
  0.739,0.758,0.750,0.764,0.762,0.783,0.715,0.723,0.696,0.696,0.723,0.692,0.712,0.698,0.719,0.706,0.715,0.727,0.751,0.757,0.757,0.761,0.762,0.778,0.754,0.760,0.768,0.776,0.762,0.795,0.768,0.768,0.756,0.774,0.790,0.760,0.719,
  0.879,0.899,0.913,0.920,0.913,0.906,0.947,0.950,0.980,0.989,0.990,0.993,0.995,0.996,0.997,0.997,0.997,0.997,0.997,0.997,0.997,0.997,0.997,0.997,0.997,0.997,0.997,0.997,0.997,0.997,0.997,0.997,0.997,0.997,0.997,0.997,0.999];
const juan44_5 = [
  0.910,0.879,0.901,0.918,0.920,0.921,0.903,0.899,0.913,0.895,0.884,0.879,0.913,0.907,0.897,0.920,0.911,0.909,0.884,0.884,0.907,0.907,0.884,0.895,0.911,0.887,0.909,0.907,0.906,0.905,0.887,0.889,0.890,0.892,0.906,0.884,0.893,
  0.985,0.995,1,1,0.995,0.989,0.980,0.979,0.959,0.962,0.973,0.950,0.975,0.966,0.975,0.977,0.962,0.983,0.969,0.977,0.989,0.998,0.998,0.999,0.999,0.998,0.997,0.996,0.995,0.997,0.998,0.999,0.999,0.999,0.999,0.999,0.999,
  1,1,1,1,1,1,1,1,1,1,1,1,1,1,1,1,1,1,1,1,1,1,1,1,1,1,1,1,1,1,1,1,1,1,1,1,1];
const juan44_5Lo = [
  0.854,0.803,0.821,0.835,0.838,0.838,0.821,0.817,0.829,0.813,0.805,0.801,0.829,0.823,0.817,0.835,0.827,0.825,0.803,0.803,0.827,0.827,0.805,0.817,0.829,0.807,0.827,0.827,0.824,0.824,0.805,0.810,0.810,0.813,0.825,0.803,0.813,
  0.893,0.911,0.920,0.911,0.911,0.915,0.901,0.893,0.872,0.875,0.887,0.866,0.888,0.883,0.895,0.893,0.879,0.893,0.881,0.899,0.917,0.909,0.917,0.932,0.915,0.915,0.906,0.922,0.924,0.922,0.909,0.917,0.914,0.911,0.911,0.909,0.917,
  0.985,0.990,0.993,0.995,0.996,0.997,0.997,0.997,0.997,0.997,0.997,0.997,0.997,0.997,0.997,0.997,0.997,0.997,0.997,0.997,0.997,0.997,0.997,0.997,0.997,0.997,0.997,0.997,0.997,0.997,0.997,0.997,0.997,0.997,0.997,0.997,0.999];
const juan49_5 = [
  1,1,1,1,1,1,1,1,1,1,1,1,1,1,1,1,1,1,1,1,1,1,1,1,1,1,1,1,1,1,1,1,1,1,1,1,1,
  1,1,1,1,1,1,1,1,1,1,1,1,1,1,1,1,1,1,1,1,1,1,1,1,1,1,1,1,1,1,1,1,1,1,1,1,1,
  1,1,1,1,1,1,1,1,1,1,1,1,1,1,1,1,1,1,1,1,1,1,1,1,1,1,1,1,1,1,1,1,1,1,1,1,1];
const juan49_5Lo = [
  0.922,0.913,0.947,0.939,0.936,0.935,0.926,0.932,0.940,0.924,0.924,0.926,0.942,0.939,0.935,0.939,0.943,0.942,0.932,0.924,0.934,0.935,0.925,0.927,0.935,0.935,0.938,0.932,0.932,0.932,0.930,0.930,0.930,0.932,0.948,0.935,0.924,
  0.973,0.983,0.980,0.977,0.976,0.988,0.968,0.965,0.957,0.969,0.952,0.961,0.965,0.969,0.969,0.965,0.962,0.975,0.973,0.963,0.977,0.971,0.980,0.980,0.980,0.980,0.977,0.977,0.980,0.985,0.983,0.983,0.981,0.980,0.977,0.977,0.975,
  0.990,0.992,0.994,0.995,0.995,0.996,0.997,0.997,0.997,0.997,0.997,0.997,0.997,0.997,0.997,0.997,0.997,0.997,0.997,0.997,0.997,0.997,0.997,0.997,0.997,0.997,0.997,0.997,0.997,0.997,0.997,0.997,0.997,0.997,0.997,0.997,0.999];

// ---- counts: truth and predicted totals with bands ----
const truthLeo = [
  0,1,1,1,2,2,2,5,7,7,7,7,8,8,8,8,9,9,11,12,13,13,13,14,16,17,17,17,18,19,19,20,21,22,24,25,26,
  0,0,0,0,0,2,2,3,3,4,4,9,10,11,11,11,12,13,14,14,17,17,20,24,31,36,36,36,36,36,37,37,39,39,39,39,39,
  0,0,2,2,3,4,4,4,5,5,7,7,10,11,11,11,11,11,11,14,15,16,17,18,18,21,22,23,23,23,23,27,28,29,29,29,30];
const truthJuan = [
  0,0,0,0,1,1,2,4,4,5,6,6,8,9,9,9,9,9,9,11,11,11,13,13,13,14,14,16,16,19,19,20,21,21,21,22,22,
  0,0,0,0,0,0,1,4,5,5,7,8,8,8,8,8,8,9,9,9,9,10,10,11,15,15,17,17,18,19,20,21,21,22,22,22,22,
  0,1,1,3,3,4,4,4,4,6,7,7,8,8,9,10,10,10,10,10,12,12,12,12,13,13,13,13,13,15,15,15,15,15,16,16,16];
const predLeo = [
  33.9,35.9,35.5,34.9,35.2,34.5,33.7,34.9,35.5,34.9,35.0,35.5,34.9,34.2,34.3,34.3,34.5,33.9,34.3,33.7,34.9,34.5,33.9,34.2,34.7,34.6,35.0,34.5,34.2,34.2,34.5,34.5,34.9,34.2,34.5,35.2,34.5,
  33.7,33.7,33.7,33.9,34.0,35.5,34.2,34.9,34.7,35.2,35.2,35.9,36.9,36.7,36.5,35.7,36.1,36.9,39.4,39.4,39.5,38.9,39.0,39.5,42.3,42.5,42.5,42.5,42.2,41.9,44.7,45.5,45.2,45.2,45.2,45.9,47.5,
  40.9,42.3,43.7,43.4,43.0,41.9,40.0,38.9,37.9,35.9,33.9,32.5,31.0,29.7,28.5,27.5,26.2,24.9,24.2,23.4,22.5,21.7,20.9,20.7,19.7,22.5,23.2,23.2,23.2,23.2,23.2,26.9,28.2,29.0,29.0,29.0,0];
const predJuan = [
  35.9,35.9,35.9,35.9,35.7,35.5,36.1,35.9,35.7,35.9,36.1,36.7,36.3,36.2,36.0,35.7,36.2,36.2,36.3,36.3,36.3,35.9,36.7,36.7,36.2,36.7,36.5,36.3,36.3,37.0,37.0,36.7,36.7,36.7,36.7,37.0,36.5,
  33.9,33.9,33.7,34.1,34.1,33.7,34.9,34.9,35.2,35.7,35.2,35.7,35.4,35.5,35.0,35.2,35.5,34.9,34.7,34.3,34.1,34.1,34.1,34.3,34.5,34.7,34.5,34.2,34.1,33.9,34.3,34.3,34.3,34.3,34.3,34.3,35.2,
  33.5,33.0,32.5,32.5,32.7,32.5,31.5,31.0,30.2,28.9,27.2,25.9,24.5,23.5,22.7,21.7,20.5,19.2,17.9,16.9,16.3,15.5,14.4,14.4,13.9,13.4,13.4,13.4,13.4,15.0,15.0,15.0,15.0,15.0,16.0,16.0,0];
const leoHi = [
  43.5,44.0,44.5,44.0,44.5,44.0,44.0,44.5,44.5,44.5,44.0,44.5,44.5,44.5,44.0,44.5,44.9,44.5,44.5,44.5,44.2,44.5,44.5,45.0,45.4,44.9,44.3,44.5,43.9,44.5,44.9,44.5,44.2,44.3,44.9,44.5,44.5,
  42.9,42.2,42.9,42.3,41.9,44.1,42.7,43.7,43.7,43.9,44.2,44.9,45.9,45.9,45.9,44.5,44.7,45.2,48.2,48.5,48.7,48.1,47.5,47.4,51.0,50.5,50.5,51.2,50.5,50.4,53.9,54.3,53.5,53.5,53.0,54.7,56.5,
  47.2,48.9,50.5,49.9,48.7,48.7,46.5,44.9,43.4,40.9,38.9,37.2,35.5,34.1,33.2,31.9,30.3,29.0,27.9,26.9,25.7,24.3,23.0,22.2,21.2,23.2,23.7,24.2,23.9,23.7,23.7,27.2,28.5,29.4,29.4,29.4,0];
const leoLo = [
  22.1,22.9,23.9,23.4,23.5,22.5,22.5,23.5,24.2,23.2,23.4,25.4,24.9,23.4,24.0,23.2,26.2,23.2,24.5,23.0,25.5,23.0,23.5,23.7,23.9,25.2,24.3,24.0,24.0,25.0,25.9,25.2,25.2,24.9,24.5,25.7,26.3,
  24.5,24.9,24.3,25.5,25.4,26.9,25.5,25.5,26.1,26.3,26.2,27.7,27.5,27.2,26.9,26.5,27.7,27.9,30.7,29.5,30.1,28.9,30.1,31.5,34.9,35.5,34.9,33.9,33.2,34.9,35.7,36.9,37.5,37.0,37.5,36.9,38.5,
  34.3,35.9,36.9,36.7,36.2,35.5,34.5,33.5,31.9,30.5,29.2,27.9,26.5,25.2,24.3,23.4,22.3,21.0,20.5,19.7,19.0,18.3,17.9,17.9,18.2,22.2,22.7,22.7,22.7,22.7,22.7,26.7,27.9,28.7,28.7,28.7,0];
const juanHi = [
  45.5,48.5,46.5,46.0,46.5,46.0,46.5,47.0,46.5,46.0,46.5,47.0,46.5,46.5,47.0,46.3,46.3,47.2,46.5,47.5,46.5,46.8,47.7,47.7,46.9,46.9,46.5,46.9,46.9,46.9,46.8,46.8,46.9,46.5,46.9,46.9,46.5,
  43.5,42.7,43.0,42.7,42.5,42.1,43.7,43.9,44.9,44.5,43.9,44.9,43.9,44.1,44.0,43.9,44.2,43.4,43.2,43.4,42.9,43.0,41.9,42.3,42.1,42.1,42.1,41.9,41.5,42.2,42.1,41.9,42.0,41.9,41.7,42.1,42.9,
  42.9,39.2,38.5,38.2,38.0,38.2,37.2,36.9,35.2,33.2,30.9,30.1,28.5,27.2,26.2,24.9,23.5,21.5,20.2,19.2,18.2,17.2,16.2,15.5,14.9,14.2,13.9,13.7,13.7,15.2,15.2,15.2,15.2,15.2,16.2,16.2,0];
const juanLo = [
  23.4,23.2,24.0,24.0,23.9,23.4,24.5,24.5,24.5,23.9,24.3,26.1,25.7,24.9,25.5,24.5,26.2,24.9,25.5,24.9,26.3,24.3,25.7,25.7,25.2,26.3,26.3,25.7,25.7,26.5,27.3,27.0,26.7,26.5,26.3,27.0,26.2,
  24.9,24.5,24.3,25.5,25.5,25.9,25.9,25.8,25.4,26.1,26.2,26.2,26.5,26.7,26.2,26.1,26.3,26.5,25.0,25.5,25.0,25.7,26.3,26.7,26.7,27.0,26.2,26.2,26.1,26.2,26.3,26.5,26.5,26.9,27.0,26.4,27.5,
  27.5,26.7,26.5,27.2,27.2,26.5,26.1,25.5,24.9,23.9,22.9,21.2,20.5,19.4,18.9,18.1,17.0,16.1,15.2,14.5,13.9,13.2,12.7,12.5,12.5,12.5,12.5,12.5,12.5,14.9,14.9,14.9,14.9,14.9,15.9,15.9,0];

// pair the arrays per threshold (index follows `thresholds`)
const leoSeries = [
  [leo4_5, leo4_5Lo], [leo9_5, leo9_5Lo], [leo14_5, leo14_5Lo], [leo19_5, leo19_5Lo], [leo24_5, leo24_5Lo],
  [leo29_5, leo29_5Lo], [leo34_5, leo34_5Lo], [leo39_5, leo39_5Lo], [leo44_5, leo44_5Lo], [leo49_5, leo49_5Lo]];
const juanSeries = [
  [juan4_5, juan4_5Lo], [juan9_5, juan9_5Lo], [juan14_5, juan14_5Lo], [juan19_5, juan19_5Lo], [juan24_5, juan24_5Lo],
  [juan29_5, juan29_5Lo], [juan34_5, juan34_5Lo], [juan39_5, juan39_5Lo], [juan44_5, juan44_5Lo], [juan49_5, juan49_5Lo]];

// sanity check on lengths
[...leoSeries.flat(), ...juanSeries.flat(), truthLeo, truthJuan, predLeo, predJuan, leoHi, leoLo, juanHi, juanLo]
  .forEach((a, k) => { if (a.length !== times.length) throw new Error("array #" + k + " has " + a.length + " values"); });

// ---- layout ----
const X_LEFT = 93.5, X_RIGHT = 2077;
const panels = [
  { top: 50, bottom: 518.3 },
  { top: 578.7, bottom: 1046.3 },
  { top: 1106.7, bottom: 1418.5 }
];
const FONT = "DejaVu Sans";
const idx = d3.range(times.length);

const svg = d3.select("body").append("svg")
  .attr("width", width).attr("height", height)
  .style("background", "white");

const x = d3.scaleLinear().domain([513, 1107]).range([X_LEFT, X_RIGHT]);

function drawFrameAndXAxis(g, p, showLabels) {
  g.append("rect")
    .attr("x", X_LEFT).attr("y", p.top)
    .attr("width", X_RIGHT - X_LEFT).attr("height", p.bottom - p.top)
    .attr("fill", "none").attr("stroke", "#1a1a1a").attr("stroke-width", 1.3);
  const ax = g.append("g").attr("transform", `translate(0,${p.bottom})`)
    .call(d3.axisBottom(x).tickValues(xTicks).tickSize(5).tickPadding(5)
      .tickFormat(showLabels ? d3.format("d") : ""));
  ax.select(".domain").remove();
  ax.selectAll("line").attr("stroke", "#1a1a1a").attr("stroke-width", 1.2);
  ax.selectAll("text").attr("font-family", FONT).attr("font-size", 14).attr("fill", "#111");
}

function drawYAxis(g, y, ticks, fmt) {
  const ay = g.append("g").attr("transform", `translate(${X_LEFT},0)`)
    .call(d3.axisLeft(y).tickValues(ticks).tickSize(5).tickPadding(4).tickFormat(fmt));
  ay.select(".domain").remove();
  ay.selectAll("line").attr("stroke", "#1a1a1a").attr("stroke-width", 1.2);
  ay.selectAll("text").attr("font-family", FONT).attr("font-size", 14).attr("fill", "#111");
}

function drawGrid(g, y, values) {
  g.append("g").selectAll("line").data(values).join("line")
    .attr("x1", X_LEFT).attr("x2", X_RIGHT)
    .attr("y1", d => y(d)).attr("y2", d => y(d))
    .attr("stroke", "#e2e2e2").attr("stroke-width", 1);
}

function drawRoundMarkers(g, p, labelY) {
  ROUND_STARTS.forEach((t, k) => {
    g.append("line")
      .attr("x1", x(t)).attr("x2", x(t)).attr("y1", p.top).attr("y2", p.bottom)
      .attr("stroke", "#555").attr("stroke-width", 1)
      .attr("stroke-dasharray", "1,2.2").attr("opacity", 0.85);
    g.append("text")
      .attr("x", x(t) + 6).attr("y", labelY)
      .attr("font-family", FONT).attr("font-size", 15).attr("fill", "#666")
      .text(ROUND_NAMES[k]);
  });
}

function drawYLabel(text, cx, cy) {
  svg.append("text")
    .attr("transform", `translate(${cx},${cy}) rotate(-90)`)
    .attr("text-anchor", "middle").attr("dominant-baseline", "central")
    .attr("font-family", FONT).attr("font-size", 14).attr("fill", "#111")
    .text(text);
}

function drawProbPanel(p, title, series) {
  const g = svg.append("g");
  const y = d3.scaleLinear().domain([0, 1.15]).range([p.bottom, p.top]);

  drawGrid(g, y, probTicks);
  drawRoundMarkers(g, p, p.top + 30);

  series.forEach(([hi, lo], k) => {
    const c = thresholdColors[k];
    g.append("path").datum(idx)
      .attr("d", d3.area().x(i => x(times[i])).y0(i => y(lo[i])).y1(i => y(hi[i])))
      .attr("fill", c).attr("fill-opacity", 0.1);
    g.append("path").datum(idx)
      .attr("d", d3.line().x(i => x(times[i])).y(i => y(lo[i])))
      .attr("fill", "none").attr("stroke", c).attr("stroke-width", 1.3)
      .attr("stroke-dasharray", "1.3,2.2").attr("stroke-opacity", 0.85);
    g.append("path").datum(idx)
      .attr("d", d3.line().x(i => x(times[i])).y(i => y(hi[i])))
      .attr("fill", "none").attr("stroke", c).attr("stroke-width", 2.1)
      .attr("stroke-opacity", 0.9).attr("stroke-linejoin", "round");
  });

  drawFrameAndXAxis(g, p, false);
  drawYAxis(g, y, probTicks, d3.format(".2f"));

  g.append("text")
    .attr("x", (X_LEFT + X_RIGHT) / 2).attr("y", p.top - 12)
    .attr("text-anchor", "middle")
    .attr("font-family", FONT).attr("font-size", 20.8).attr("fill", "#111")
    .text(title);

  // legend, 4 columns filled top-to-bottom
  const lg = g.append("g");
  const lx = 1573.5, ly = p.top + 8.7;
  lg.append("rect").attr("x", lx).attr("y", ly).attr("width", 497).attr("height", 60)
    .attr("rx", 4).attr("fill", "white").attr("fill-opacity", 0.8)
    .attr("stroke", "#cccccc").attr("stroke-width", 1);
  const colX = [1577.5, 1706, 1834.5, 1963];
  const colOf = [0, 0, 0, 1, 1, 1, 2, 2, 3, 3];
  const rowOf = [0, 1, 2, 0, 1, 2, 0, 1, 0, 1];
  const rowY = [10, 29.4, 48.4];
  thresholds.forEach((t, k) => {
    const hx = colX[colOf[k]], hy = ly + rowY[rowOf[k]];
    lg.append("line").attr("x1", hx).attr("x2", hx + 27).attr("y1", hy).attr("y2", hy)
      .attr("stroke", thresholdColors[k]).attr("stroke-width", 2.1).attr("stroke-opacity", 0.9);
    lg.append("text").attr("x", hx + 36).attr("y", hy).attr("dominant-baseline", "central")
      .attr("font-family", FONT).attr("font-size", 12.3).attr("fill", "#111")
      .text("under " + t);
  });
}

drawProbPanel(panels[0], fighterA + " \u2014 " + titleSuffix, leoSeries);
drawProbPanel(panels[1], fighterB + " \u2014 " + titleSuffix, juanSeries);
drawYLabel("Prob", 28, (panels[0].top + panels[0].bottom) / 2);
drawYLabel("Prob", 28, (panels[1].top + panels[1].bottom) / 2);

// ---- count panel ----
(function drawCountPanel() {
  const p = panels[2];
  const g = svg.append("g");
  const y = d3.scaleLinear().domain([-2.83, 59.4]).range([p.bottom, p.top]);

  drawGrid(g, y, countGrid);
  drawRoundMarkers(g, p, p.top + 24);

  const bands = [[leoLo, leoHi, "#ff0000"], [juanLo, juanHi, "#0000ff"]];
  bands.forEach(([lo, hi, c]) => {
    g.append("path").datum(idx)
      .attr("d", d3.area().x(i => x(times[i])).y0(i => y(lo[i])).y1(i => y(hi[i])))
      .attr("fill", c).attr("fill-opacity", 0.14)
      .attr("stroke", c).attr("stroke-opacity", 0.14).attr("stroke-width", 1.2);
  });

  const truth = [[truthLeo, "#ff0000"], [truthJuan, "#0000ff"]];
  truth.forEach(([vals, c]) => {
    g.append("path").datum(idx)
      .attr("d", d3.line().x(i => x(times[i])).y(i => y(vals[i])))
      .attr("fill", "none").attr("stroke", c).attr("stroke-width", 2.8)
      .attr("stroke-opacity", 0.72).attr("stroke-linejoin", "round");
  });

  const pred = [[predLeo, "#ff0000"], [predJuan, "#0000ff"]];
  pred.forEach(([vals, c]) => {
    g.append("path").datum(idx)
      .attr("d", d3.line().x(i => x(times[i])).y(i => y(vals[i])))
      .attr("fill", "none").attr("stroke", c).attr("stroke-width", 2.8)
      .attr("stroke-dasharray", "2.8,4.6").attr("stroke-opacity", 0.6);
  });

  drawFrameAndXAxis(g, p, true);
  drawYAxis(g, y, countTicks, d3.format("d"));

  // legend (drawn over the R4 marker label, as in the source figure)
  const entries = [
    ["Truth " + fighterA + ": " + truthLeo[truthLeo.length - 1], "#ff0000", false],
    ["Truth " + fighterB + ": " + truthJuan[truthJuan.length - 1], "#0000ff", false],
    ["Predicted " + fighterA + ": " + predictedTotals[0], "#ff0000", true],
    ["Predicted " + fighterB + ": " + predictedTotals[1], "#0000ff", true]
  ];
  const lg = g.append("g");
  lg.append("rect").attr("x", 99.8).attr("y", 1114).attr("width", 341).attr("height", 93)
    .attr("rx", 4).attr("fill", "white").attr("fill-opacity", 0.8)
    .attr("stroke", "#cccccc").attr("stroke-width", 1);
  const rowY = [1126, 1148.3, 1170.8, 1193.2];
  entries.forEach(([label, c, dotted], k) => {
    const ln = lg.append("line").attr("x1", 105.6).attr("x2", 136.5)
      .attr("y1", rowY[k]).attr("y2", rowY[k])
      .attr("stroke", c).attr("stroke-width", 2.8)
      .attr("stroke-opacity", dotted ? 0.6 : 0.72);
    if (dotted) ln.attr("stroke-dasharray", "2.8,4.6");
    lg.append("text").attr("x", 147).attr("y", rowY[k]).attr("dominant-baseline", "central")
      .attr("font-family", FONT).attr("font-size", 14.6).attr("fill", "#111")
      .text(label);
  });
})();

drawYLabel("Count", 40, (panels[2].top + panels[2].bottom) / 2);

svg.append("text")
  .attr("x", (X_LEFT + X_RIGHT) / 2).attr("y", 1471)
  .attr("text-anchor", "middle")
  .attr("font-family", FONT).attr("font-size", 20.8).attr("fill", "#111")
  .text("Fight time (seconds)");
</script>
</body>
</html>
